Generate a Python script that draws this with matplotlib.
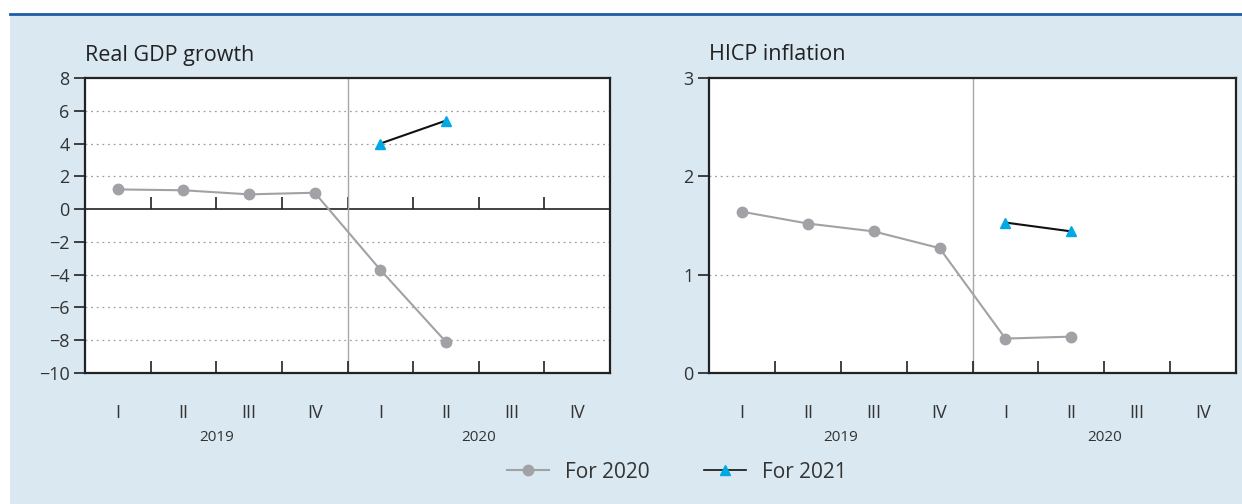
import numpy as np
import matplotlib
matplotlib.use('Agg')
from matplotlib import pyplot as plt
from matplotlib.patches import Rectangle
from matplotlib.lines import Line2D
import matplotlib.transforms as mtransforms

plt.rcParams['font.family'] = ['Open Sans', 'DejaVu Sans']

quarters = ['I', 'II', 'III', 'IV', 'I', 'II', 'III', 'IV']
years = ['2019', '2020']

# Real GDP growth
gdp_2020 = [1.2, 1.15, 0.9, 1.0, -3.7, -8.1]
gdp_2021 = [4.0, 5.4]
# HICP inflation
hicp_2020 = [1.64, 1.52, 1.44, 1.27, 0.35, 0.37]
hicp_2021 = [1.53, 1.44]

BG = '#d9e8f1'
GREY = '#a2a2a6'
CYAN = '#00a8e4'
TXT = '#333333'

fig = plt.figure(figsize=(12.42, 5.04), dpi=100)
fig.patch.set_facecolor('white')
fig.patches.append(Rectangle((10 / 1242, 0), 1 - 10 / 1242, (504 - 15) / 504,
                             transform=fig.transFigure, facecolor=BG, edgecolor='none', zorder=-10))
fig.add_artist(Line2D([10 / 1242, 1], [(504 - 14) / 504] * 2, transform=fig.transFigure,
                      color='#1f5ca6', lw=2))


def panel(rect, title, s20, s21, ylim, yticks, zero_ticks=False):
    ax = fig.add_axes(rect)
    ax.set_facecolor('white')
    x = np.arange(len(quarters))
    ax.set_xlim(-0.5, len(quarters) - 0.5)
    ax.set_ylim(*ylim)
    ax.set_yticks(yticks)
    ax.set_yticklabels([str(t).replace('-', '\u2212') for t in yticks])
    for t in yticks[1:-1]:
        if t != 0:
            ax.axhline(t, color='#a0a0a0', lw=0.9, ls=(0, (1.5, 3)), zorder=1)
    ax.axvline(3.5, color='#a8a8a8', lw=1.0, zorder=1)

    ax.set_xticks(x)
    ax.set_xticklabels(quarters)
    ax.set_xticks(np.arange(0.5, len(quarters) - 0.5, 1), minor=True)
    ax.tick_params(axis='x', which='major', length=0, pad=22, labelsize=13, colors=TXT)
    ax.tick_params(axis='x', which='minor', direction='in', length=9, width=1.2, color='#222222')
    ax.tick_params(axis='y', direction='out', length=8, width=1.2, labelsize=13,
                   labelcolor=TXT, color='#222222', pad=3)
    for sp in ax.spines.values():
        sp.set_linewidth(1.6)
        sp.set_color('#222222')

    if zero_ticks:
        loc = (0 - ylim[0]) / (ylim[1] - ylim[0])
        sec = ax.secondary_xaxis(loc)
        sec.set_xticks(np.arange(0.5, len(quarters) - 0.5, 1))
        sec.set_xticklabels([])
        sec.tick_params(direction='out', length=9, width=1.2, color='#222222')
        for sp in sec.spines.values():
            sp.set_linewidth(1.2)
            sp.set_color('#222222')

    ax.plot(x[:len(s20)], s20, color=GREY, lw=1.5, marker='o', ms=7.5, zorder=3, clip_on=False)
    ax.plot(x[4:4 + len(s21)], s21, color='#111111', lw=1.5, zorder=3)
    ax.plot(x[4:4 + len(s21)], s21, ls='none', marker='^', ms=7, color=CYAN, zorder=4)

    trans = mtransforms.blended_transform_factory(ax.transData, ax.transAxes)
    ax.text(1.5, -0.217, years[0], transform=trans, ha='center', va='center',
            fontsize=11, color=TXT)
    ax.text(5.5, -0.217, years[1], transform=trans, ha='center', va='center',
            fontsize=11, color=TXT)
    fig.text(rect[0], (504 - 55) / 504, title, ha='left', va='center', fontsize=15.5,
             color='#222222')
    return ax


H = 295 / 504
B = (504 - 373) / 504
panel([85 / 1242, B, 525 / 1242, H], 'Real GDP growth', gdp_2020, gdp_2021,
      (-10, 8), list(range(-10, 9, 2)), zero_ticks=True)
panel([709 / 1242, B, 527 / 1242, H], 'HICP inflation', hicp_2020, hicp_2021,
      (0, 3), [0, 1, 2, 3])

h1 = Line2D([], [], color=GREY, lw=1.5, marker='o', ms=7.5)
h2 = Line2D([], [], color='#111111', lw=1.2, marker='^', ms=7, markerfacecolor=CYAN,
            markeredgecolor=CYAN)
fig.legend([h1, h2], ['For 2020', 'For 2021'], loc='center', ncol=2,
           bbox_to_anchor=(677 / 1242, (504 - 472) / 504), frameon=False, fontsize=15,
           handlelength=2.0, columnspacing=2.6, handletextpad=0.8, labelcolor=TXT)

fig.savefig('out.png', dpi=100, facecolor=fig.get_facecolor())
